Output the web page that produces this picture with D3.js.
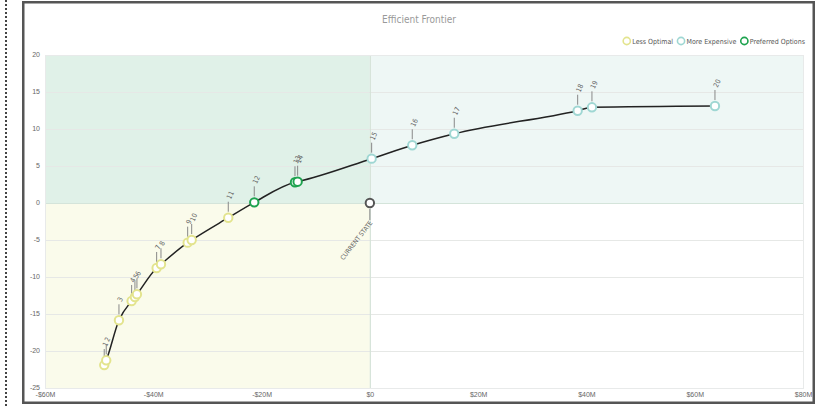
<!DOCTYPE html>
<html><head><meta charset="utf-8">
<script src="https://cdn.jsdelivr.net/npm/d3@7"></script>
<style>
html,body{margin:0;padding:0;background:#fff;}
svg{display:block;font-family:"DejaVu Sans Condensed","Liberation Sans Narrow","Liberation Sans",sans-serif;}
</style></head>
<body><svg id="c" width="818" height="408"></svg>
<script>
// ---- data ----
const pointLabels = ["1","2","3","4","5","6","7","8","9","10","11","12","13","14","15","16","17","18","19","20"];
const costM =      [-49.06,-48.69,-46.34,-44.0,-43.39,-43.02,-39.38,-38.58,-33.65,-32.91,-26.15,-21.35,-13.83,-13.34,0.33,7.83,15.59,38.38,41.02,63.74];
const scoreVals =  [-21.9,-21.26,-15.85,-13.24,-12.7,-12.34,-8.78,-8.28,-5.36,-5.0,-1.99,0.09,2.8,2.88,5.99,7.8,9.36,12.47,12.93,13.11];
const groups =     ["less","less","less","less","less","less","less","less","less","less","less","pref","pref","pref","more","more","more","more","more","more"];
const currentState = {label:"CURRENT STATE", cost:0, score:0};
const xTicks = [-60,-40,-20,0,20,40,60,80];
const yTicks = [20,15,10,5,0,-5,-10,-15,-20,-25];
const legendItems = [{key:"less",name:"Less Optimal"},{key:"more",name:"More Expensive"},{key:"pref",name:"Preferred Options"}];
const titleText = "Efficient Frontier";

const colors = {less:"#e3e48e", more:"#9fd7d3", pref:"#1ea34f", cur:"#555"};

const svg = d3.select("#c");
const x = d3.scaleLinear().domain([-60,80]).range([45,803]);
const y = d3.scaleLinear().domain([-25,20]).range([388,55]);

// outer dotted line & frame
svg.append("line").attr("x1",6).attr("x2",6).attr("y1",0).attr("y2",408)
  .attr("stroke","#444").attr("stroke-width",2).attr("stroke-dasharray","2,2");
svg.append("rect").attr("x",23.25).attr("y",2.25).attr("width",790.5).attr("height",400.5)
  .attr("fill","#fff").attr("stroke","#555").attr("stroke-width",2.5);

// quadrant backgrounds
svg.append("rect").attr("x",x(-60)).attr("y",y(20)).attr("width",x(0)-x(-60)).attr("height",y(0)-y(20)).attr("fill","#e0f1e8");
svg.append("rect").attr("x",x(0)).attr("y",y(20)).attr("width",x(80)-x(0)).attr("height",y(0)-y(20)).attr("fill","#eef7f5");
svg.append("rect").attr("x",x(-60)).attr("y",y(0)).attr("width",x(0)-x(-60)).attr("height",y(-25)-y(0)).attr("fill","#fafbeb");

// grid
svg.append("g").selectAll("line").data(yTicks).join("line")
  .attr("x1",x(-60)).attr("x2",x(80)).attr("y1",d=>y(d)+0.5).attr("y2",d=>y(d)+0.5)
  .attr("stroke",d=>d===0?"#d4e4da":"#e6e8e6").attr("stroke-width",1);
svg.append("line").attr("x1",x(0)+0.5).attr("x2",x(0)+0.5).attr("y1",y(20)).attr("y2",y(-25))
  .attr("stroke","#d6e3d9").attr("stroke-width",1.2);
svg.append("rect").attr("x",x(-60)+0.5).attr("y",y(20)+0.5).attr("width",x(80)-x(-60)).attr("height",y(-25)-y(20))
  .attr("fill","none").attr("stroke","#e8eaea").attr("stroke-width",1);

// axes labels
const yAxis = d3.axisLeft(y).tickValues(yTicks).tickSize(0).tickPadding(0).tickFormat(d=>d);
const gy = svg.append("g").attr("transform","translate(40,-1)").call(yAxis);
gy.select(".domain").remove();
gy.selectAll("text").attr("fill","#666").style("font-size","7px");

const fmt = d => d===0 ? "$0" : (d<0?"-$":"$")+Math.abs(d)+"M";
const xAxis = d3.axisBottom(x).tickValues(xTicks).tickSize(0).tickPadding(0).tickFormat(fmt);
const gx = svg.append("g").attr("transform","translate(0,392)").call(xAxis);
gx.select(".domain").remove();
gx.selectAll("text").attr("fill","#666").style("font-size","7px");

// title
svg.append("text").attr("x",419).attr("y",23).attr("text-anchor","middle")
  .attr("fill","#999").style("font-size","10px").text(titleText);

// legend (laid out right-to-left, ending at x=805)
const lg = svg.append("g").selectAll("g").data(legendItems).join("g");
lg.append("circle").attr("r",3.6).attr("fill","#fff").attr("stroke",d=>colors[d.key]).attr("stroke-width",1.6);
lg.append("text").attr("x",5.5).attr("y",2.6).attr("fill","#555").style("font-size","7px").text(d=>d.name);
let cursor = 805;
const widths = [];
lg.each(function(){ widths.push(d3.select(this).select("text").node().getComputedTextLength()); });
const pos = [];
for (let i = legendItems.length-1; i>=0; i--) {
  const w = widths[i] + 5.5 + 4;
  cursor -= w;
  pos[i] = cursor + 4;
  cursor -= 4;
}
lg.attr("transform",(d,i)=>`translate(${pos[i]},41)`);

// data
const pts = pointLabels.map((l,i)=>({label:l, cost:costM[i], score:scoreVals[i], g:groups[i]}));

// line
svg.append("path").datum(pts)
  .attr("d", d3.line().x(d=>x(d.cost)).y(d=>y(d.score)).curve(d3.curveMonotoneX))
  .attr("fill","none").attr("stroke","#222").attr("stroke-width",1.5);

// stems + labels
const lab = svg.append("g").selectAll("g").data(pts).join("g")
  .attr("transform",d=>`translate(${x(d.cost)},${y(d.score)})`);
lab.append("line").attr("x1",0).attr("x2",0).attr("y1",-6).attr("y2",-16).attr("stroke","#888").attr("stroke-width",1);
lab.append("text").attr("transform","translate(2.5,-18) rotate(-65)").attr("fill","#666")
  .style("font-size","7px").text(d=>d.label);

// points
svg.append("g").selectAll("circle").data(pts).join("circle")
  .attr("cx",d=>x(d.cost)).attr("cy",d=>y(d.score)).attr("r",4.2)
  .attr("fill","#fff").attr("stroke",d=>colors[d.g]).attr("stroke-width",2);

// current state
const cs = svg.append("g").attr("transform",`translate(${x(currentState.cost)},${y(currentState.score)})`);
cs.append("line").attr("x1",0).attr("x2",0).attr("y1",6).attr("y2",17).attr("stroke","#888").attr("stroke-width",1);
cs.append("text").attr("transform","translate(3,20) rotate(-52)").attr("text-anchor","end")
  .attr("fill","#666").style("font-size","6.5px").text(currentState.label);
cs.append("circle").attr("r",4.2).attr("fill","#fff").attr("stroke",colors.cur).attr("stroke-width",2);
</script></body></html>
